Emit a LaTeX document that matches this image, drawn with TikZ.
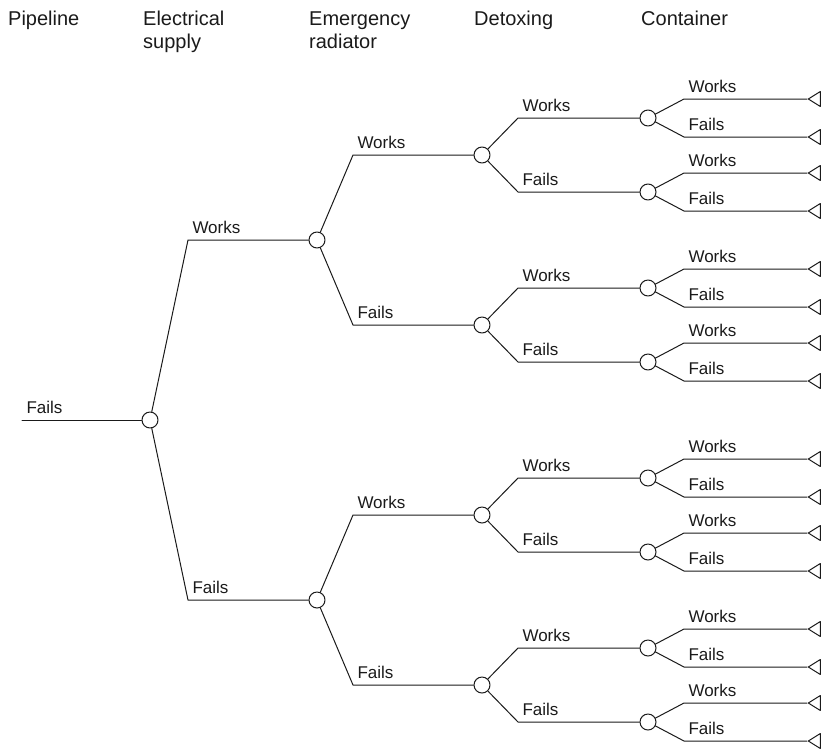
\documentclass[tikz,border=0pt]{standalone}
\usepackage{fontspec}
\setmainfont{Liberation Sans}
\usetikzlibrary{shapes.geometric}

\definecolor{ink}{HTML}{1a1a1a}

\begin{document}
\begin{tikzpicture}[
  x=1pt, y=-1pt,
  line cap=round, line join=round,
  every node/.style={text=ink},
  branch/.style={draw=ink, line width=1pt},
  chance/.style={circle, draw=ink, line width=1pt, fill=white, minimum size=16pt, inner sep=0pt},
  outcome/.style={isosceles triangle, isosceles triangle stretches, shape border rotate=180, draw=ink, line width=1pt, fill=white, minimum width=15pt, minimum height=12pt, inner sep=0pt, anchor=apex},
  lbl/.style={anchor=base west, inner sep=0pt, xshift=4pt, yshift=7pt, font=\fontsize{17}{20}\selectfont},
  head/.style={anchor=base west, align=left, inner sep=0pt, font=\fontsize{20}{23.5}\selectfont},
]
\useasboundingbox (0,0) rectangle (826,750);
% column headers (base = last line)
\node[head] (hp) at (8,25) {Pipeline};
\node[head] (hes) at (143,48.5) {Electrical\\supply};
\node[head] (her) at (309,48.5) {Emergency\\radiator};
\node[head] (hdt) at (474,25) {Detoxing};
\node[head] (hct) at (641,25) {Container};
% chance nodes
\coordinate (pl) at (22,420);
\node[chance] (es) at (150,420) {};
\node[chance] (er1) at (317,240) {};
\node[chance] (er2) at (317,600) {};
\node[chance] (dt1) at (482,155) {};
\node[chance] (dt2) at (482,325) {};
\node[chance] (dt3) at (482,515) {};
\node[chance] (dt4) at (482,685) {};
\node[chance] (ct1) at (648,118) {};
\node[chance] (ct2) at (648,192) {};
\node[chance] (ct3) at (648,288) {};
\node[chance] (ct4) at (648,362) {};
\node[chance] (ct5) at (648,478) {};
\node[chance] (ct6) at (648,552) {};
\node[chance] (ct7) at (648,648) {};
\node[chance] (ct8) at (648,722) {};
% end nodes
\node[outcome] (t1) at (807,99) {};
\node[outcome] (t2) at (807,137) {};
\node[outcome] (t3) at (807,173) {};
\node[outcome] (t4) at (807,211) {};
\node[outcome] (t5) at (807,269) {};
\node[outcome] (t6) at (807,307) {};
\node[outcome] (t7) at (807,343) {};
\node[outcome] (t8) at (807,381) {};
\node[outcome] (t9) at (807,459) {};
\node[outcome] (t10) at (807,497) {};
\node[outcome] (t11) at (807,533) {};
\node[outcome] (t12) at (807,571) {};
\node[outcome] (t13) at (807,629) {};
\node[outcome] (t14) at (807,667) {};
\node[outcome] (t15) at (807,703) {};
\node[outcome] (t16) at (807,741) {};
% pipeline
\draw[branch] (pl) node[lbl]{Fails} -- (es);
% electrical supply
\draw[branch] (es) -- ([xshift=-129pt]er1.center) node[lbl]{Works} -- (er1);
\draw[branch] (es) -- ([xshift=-129pt]er2.center) node[lbl]{Fails} -- (er2);
% emergency radiator
\draw[branch] (er1) -- ([xshift=-129pt]dt1.center) node[lbl]{Works} -- (dt1);
\draw[branch] (er1) -- ([xshift=-129pt]dt2.center) node[lbl]{Fails} -- (dt2);
\draw[branch] (er2) -- ([xshift=-129pt]dt3.center) node[lbl]{Works} -- (dt3);
\draw[branch] (er2) -- ([xshift=-129pt]dt4.center) node[lbl]{Fails} -- (dt4);
% detoxing
\draw[branch] (dt1) -- ([xshift=-130pt]ct1.center) node[lbl]{Works} -- (ct1);
\draw[branch] (dt1) -- ([xshift=-130pt]ct2.center) node[lbl]{Fails} -- (ct2);
\draw[branch] (dt2) -- ([xshift=-130pt]ct3.center) node[lbl]{Works} -- (ct3);
\draw[branch] (dt2) -- ([xshift=-130pt]ct4.center) node[lbl]{Fails} -- (ct4);
\draw[branch] (dt3) -- ([xshift=-130pt]ct5.center) node[lbl]{Works} -- (ct5);
\draw[branch] (dt3) -- ([xshift=-130pt]ct6.center) node[lbl]{Fails} -- (ct6);
\draw[branch] (dt4) -- ([xshift=-130pt]ct7.center) node[lbl]{Works} -- (ct7);
\draw[branch] (dt4) -- ([xshift=-130pt]ct8.center) node[lbl]{Fails} -- (ct8);
% container
\draw[branch] (ct1) -- ([xshift=-123pt]t1.apex) node[lbl]{Works} -- (t1);
\draw[branch] (ct1) -- ([xshift=-123pt]t2.apex) node[lbl]{Fails} -- (t2);
\draw[branch] (ct2) -- ([xshift=-123pt]t3.apex) node[lbl]{Works} -- (t3);
\draw[branch] (ct2) -- ([xshift=-123pt]t4.apex) node[lbl]{Fails} -- (t4);
\draw[branch] (ct3) -- ([xshift=-123pt]t5.apex) node[lbl]{Works} -- (t5);
\draw[branch] (ct3) -- ([xshift=-123pt]t6.apex) node[lbl]{Fails} -- (t6);
\draw[branch] (ct4) -- ([xshift=-123pt]t7.apex) node[lbl]{Works} -- (t7);
\draw[branch] (ct4) -- ([xshift=-123pt]t8.apex) node[lbl]{Fails} -- (t8);
\draw[branch] (ct5) -- ([xshift=-123pt]t9.apex) node[lbl]{Works} -- (t9);
\draw[branch] (ct5) -- ([xshift=-123pt]t10.apex) node[lbl]{Fails} -- (t10);
\draw[branch] (ct6) -- ([xshift=-123pt]t11.apex) node[lbl]{Works} -- (t11);
\draw[branch] (ct6) -- ([xshift=-123pt]t12.apex) node[lbl]{Fails} -- (t12);
\draw[branch] (ct7) -- ([xshift=-123pt]t13.apex) node[lbl]{Works} -- (t13);
\draw[branch] (ct7) -- ([xshift=-123pt]t14.apex) node[lbl]{Fails} -- (t14);
\draw[branch] (ct8) -- ([xshift=-123pt]t15.apex) node[lbl]{Works} -- (t15);
\draw[branch] (ct8) -- ([xshift=-123pt]t16.apex) node[lbl]{Fails} -- (t16);
\end{tikzpicture}
\end{document}
